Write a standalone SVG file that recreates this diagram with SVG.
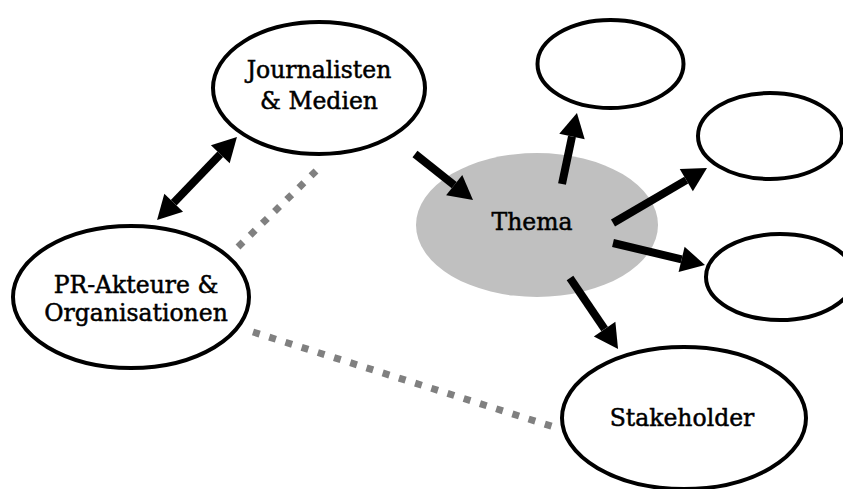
<svg xmlns="http://www.w3.org/2000/svg" width="843" height="489" viewBox="0 0 843 489">
<style>
.node{fill:#ffffff;stroke:#000000;stroke-width:4}
.topic{fill:#c0c0c0;stroke:none}
.lbl{font-family:"DejaVu Serif","Liberation Serif",serif;font-size:23.5px;fill:#000000;stroke:#000000;stroke-width:0.5;text-anchor:middle}
.arrow{stroke:#000000;stroke-width:8;fill:none;marker-end:url(#head)}
.dots{stroke:#808080;stroke-width:7;stroke-dasharray:7 10;fill:none}
</style>
<defs>
<marker id="head" markerUnits="userSpaceOnUse" viewBox="0 -13 24 26" refX="0" refY="0" markerWidth="24" markerHeight="26" orient="auto-start-reverse" overflow="visible">
<path d="M0,-13 L24,0 L0,13 z" fill="#000000"/>
</marker>
</defs>
<rect width="843" height="489" fill="#ffffff"/>
<g id="journalisten">
<ellipse class="node" cx="319" cy="88" rx="106" ry="66"/>
<text class="lbl" x="319" y="78">Journalisten</text>
<text class="lbl" x="319" y="109">&amp; Medien</text>
</g>
<g id="pr">
<ellipse class="node" cx="131" cy="297" rx="118" ry="71"/>
<text class="lbl" x="136" y="293">PR-Akteure &amp;</text>
<text class="lbl" x="136" y="321">Organisationen</text>
</g>
<g id="thema">
<ellipse class="topic" cx="537" cy="225" rx="121" ry="72"/>
<text class="lbl" x="532" y="230">Thema</text>
</g>
<g id="empty1">
<ellipse class="node" cx="610.5" cy="64" rx="73" ry="44"/>
</g>
<g id="empty2">
<ellipse class="node" cx="770" cy="136" rx="72" ry="43"/>
</g>
<g id="empty3">
<ellipse class="node" cx="780" cy="277" rx="74" ry="43"/>
</g>
<g id="stakeholder">
<ellipse class="node" cx="684" cy="418" rx="122" ry="71"/>
<text class="lbl" x="682" y="426">Stakeholder</text>
</g>
<g id="connectors">
<line class="dots" x1="238" y1="247" x2="316" y2="171"/>
<line class="dots" x1="253" y1="332" x2="554" y2="427"/>
<line class="arrow" x1="173.7" y1="202.7" x2="220.3" y2="154.3" marker-start="url(#head)"/>
<line class="arrow" x1="415" y1="154" x2="454.2" y2="185.1"/>
<line class="arrow" x1="562" y1="184" x2="572" y2="136.5"/>
<line class="arrow" x1="613" y1="223" x2="686.3" y2="180.1"/>
<line class="arrow" x1="613" y1="243" x2="681.6" y2="259.4"/>
<line class="arrow" x1="570" y1="278" x2="604.6" y2="329.1"/>
</g>
</svg>
